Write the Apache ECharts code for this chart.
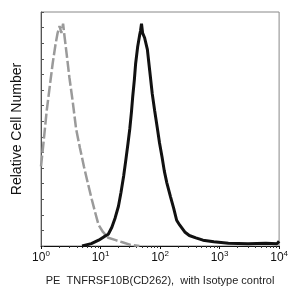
<!DOCTYPE html>
<html><head><meta charset="utf-8">
<script src="https://cdn.jsdelivr.net/npm/echarts@6/dist/echarts.min.js"></script>
<style>html,body{margin:0;padding:0;background:#fff}#c{width:291px;height:291px}</style>
</head><body><div id="c"></div>
<script>
// Isotype control (gray dashed): [fluorescence, relative count]
const isotypeX = [1.0, 1.1, 1.25, 1.4, 1.57, 1.75, 1.9, 2.05, 2.2, 2.35, 2.5, 2.67, 3.0, 3.4, 3.89, 4.5, 5.26, 6.1, 7.12, 8.2, 9.27, 11, 13.5, 18, 24, 32, 45];
const isotypeY = [34, 44, 58, 68, 78, 86, 91, 94, 91, 95, 89, 83, 72, 62, 50, 42, 34, 27, 20, 14, 9, 6, 3.5, 2.5, 1.5, 0.5, 0];
// TNFRSF10B (black solid)
const stainX = [4.9, 7, 9.3, 11.5, 13.5, 15.5, 17.6, 20, 22.1, 24.5, 26.7, 29, 31, 33, 34.8, 37, 38.9, 42, 45.3, 47, 48.8, 51, 55, 61.2, 67, 74, 81, 89.3, 98, 108, 118, 130, 150, 170, 190, 213, 260, 310, 400, 526, 800, 1406, 3000, 6000, 9270, 10000];
const stainY = [0, 1, 2.5, 4, 5, 8, 12, 17, 23, 30, 37, 44, 50, 57, 64, 71, 78, 85, 90, 92, 95, 91, 89, 84, 75, 65, 58, 51, 44, 38, 32, 27, 21, 16, 11, 9, 6, 4.5, 3.5, 2.5, 1.8, 1.2, 1, 1.2, 1, 2];
const xTickLabels = ['10{s|0}', '10{s|1}', '10{s|2}', '10{s|3}', '10{s|4}'];

const pairs = (xs, ys) => xs.map((x, i) => [x, ys[i]]);
const chart = echarts.init(document.getElementById('c'), null, {renderer: 'canvas'});
chart.setOption({
  animation: false,
  backgroundColor: '#fff',
  grid: {left: 41, right: 6, top: 12, bottom: 35, show: true, borderColor: '#888', borderWidth: 1},
  xAxis: {
    type: 'log', logBase: 10, min: 1, max: 10000,
    name: 'PE  TNFRSF10B(CD262),  with Isotype control',
    nameLocation: 'middle', nameGap: 29,
    nameTextStyle: {fontFamily: 'Liberation Sans, Arial', fontSize: 11, color: '#222'},
    axisLine: {lineStyle: {color: '#111', width: 1}},
    axisTick: {inside: false, length: 3, lineStyle: {color: '#111'}},
    minorTick: {show: true, splitNumber: 9, length: 2, lineStyle: {color: '#333'}},
    splitLine: {show: false},
    axisLabel: {
      margin: 4, fontFamily: 'Liberation Sans, Arial', fontSize: 12, color: '#111',
      formatter: v => xTickLabels[Math.round(Math.log10(v))],
      rich: {s: {fontSize: 8, verticalAlign: 'top', padding: [0, 0, 7, 0], fontFamily: 'Liberation Sans, Arial', color: '#111'}}
    }
  },
  yAxis: {
    type: 'value', min: 0, max: 100, interval: 20,
    name: 'Relative Cell Number', nameLocation: 'middle', nameGap: 17,
    nameTextStyle: {fontFamily: 'Liberation Sans, Arial', fontSize: 14, color: '#111'},
    axisLine: {show: true, lineStyle: {color: '#555'}},
    axisTick: {inside: true, length: 3, lineStyle: {color: '#555'}},
    minorTick: {show: true, splitNumber: 3, length: 3, lineStyle: {color: '#555'}},
    axisLabel: {show: false},
    splitLine: {show: false}
  },
  series: [
    {type: 'line', data: pairs(isotypeX, isotypeY), showSymbol: false, smooth: false,
     lineStyle: {color: '#9a9a9a', width: 2.5, type: [11, 3]}},
    {type: 'line', data: pairs(stainX, stainY), showSymbol: false, smooth: false,
     lineStyle: {color: '#111', width: 3}}
  ]
});
</script></body></html>
